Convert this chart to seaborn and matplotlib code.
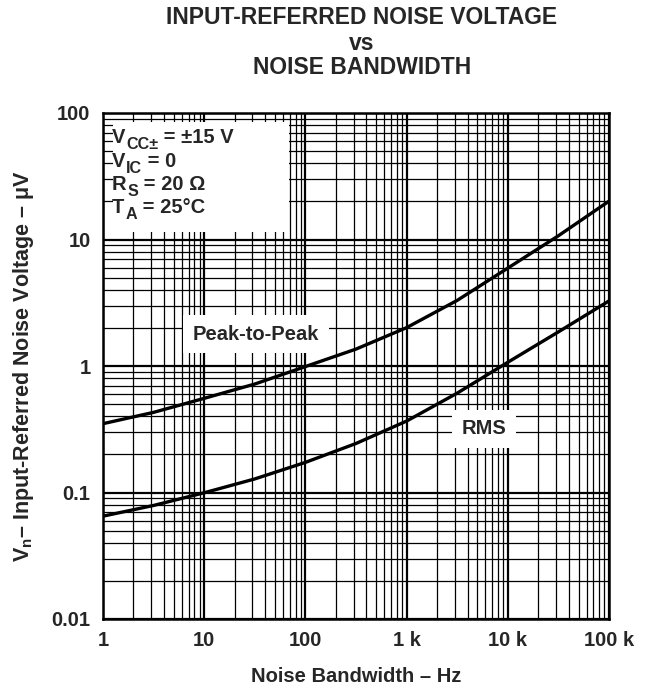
import matplotlib
matplotlib.use("Agg")
import matplotlib.pyplot as plt
import seaborn as sns
import pandas as pd
from matplotlib.patches import Rectangle
from matplotlib.ticker import FixedLocator, NullFormatter

# values (half-decade steps)
bandwidth_hz = [1, 3.16, 10, 31.6, 100, 316, 1000, 3160, 10000, 31600, 100000]
peak_to_peak_uv = [0.35, 0.43, 0.555, 0.72, 0.99, 1.36, 2.01, 3.30, 5.94, 10.7, 20.1]
rms_uv = [0.065, 0.079, 0.0995, 0.128, 0.173, 0.244, 0.367, 0.61, 1.07, 1.86, 3.27]

x_ticks = [1, 10, 100, 1000, 10000, 100000]
x_tick_labels = ["1", "10", "100", "1 k", "10 k", "100 k"]
y_ticks = [0.01, 0.1, 1, 10, 100]
y_tick_labels = ["0.01", "0.1", "1", "10", "100"]

# condition lines: (main letter, subscript, rest)
conditions = [("V", "CC±", " = ±15 V"),
              ("V", "IC", " = 0"),
              ("R", "S", " = 20 Ω"),
              ("T", "A", " = 25°C")]

df = pd.DataFrame({
    "f": bandwidth_hz * 2,
    "v": peak_to_peak_uv + rms_uv,
    "kind": ["Peak-to-Peak"] * len(bandwidth_hz) + ["RMS"] * len(bandwidth_hz),
})

sns.set_style("white")
plt.rcParams["font.family"] = ["Liberation Sans", "DejaVu Sans"]
plt.rcParams["font.weight"] = "bold"
plt.rcParams["mathtext.fontset"] = "custom"
plt.rcParams["mathtext.rm"] = "Liberation Sans:bold"
plt.rcParams["mathtext.bf"] = "Liberation Sans:bold"
plt.rcParams["mathtext.it"] = "Liberation Sans:bold"

FS = 14.5

fig = plt.figure(figsize=(6.45, 6.88), dpi=100)
ax = fig.add_axes([103 / 645, 1 - 619 / 688, 506 / 645, 506 / 688])

ax.set_xscale("log")
ax.set_yscale("log")
ax.set_xlim(1, 100000)
ax.set_ylim(0.01, 100)

# grid: minor lines thin, decade lines heavier
minor_x = [m * 10 ** d for d in range(0, 5) for m in range(2, 10)]
minor_y = [m * 10 ** d for d in range(-2, 2) for m in range(2, 10)]
ax.xaxis.set_minor_locator(FixedLocator(minor_x))
ax.yaxis.set_minor_locator(FixedLocator(minor_y))
ax.xaxis.set_minor_formatter(NullFormatter())
ax.yaxis.set_minor_formatter(NullFormatter())
ax.grid(which="minor", color="black", lw=0.9)
ax.grid(which="major", color="black", lw=1.6)
ax.set_axisbelow(True)

sns.lineplot(data=df, x="f", y="v", units="kind", estimator=None,
             color="black", lw=2.4, ax=ax, legend=False, zorder=3)

ax.set_xticks(x_ticks)
ax.set_xticklabels(x_tick_labels, fontsize=FS, fontweight="bold")
ax.set_yticks(y_ticks)
ax.set_yticklabels(y_tick_labels, fontsize=FS, fontweight="bold")
ax.tick_params(which="both", length=0, pad=9)
for s in ax.spines.values():
    s.set_color("black")
    s.set_linewidth(1.8)
    s.set_zorder(5)

ax.set_xlabel("Noise Bandwidth – Hz", fontsize=FS, fontweight="bold", labelpad=12)
ax.set_ylabel(r"V$_{\mathbf{n}}$– Input-Referred Noise Voltage – μV",
              fontsize=15.5, fontweight="bold", labelpad=11)

# white panel behind the conditions
ax.add_patch(Rectangle((0.02, 0.765), 0.348, 0.217, transform=ax.transAxes,
                       facecolor="white", edgecolor="none", zorder=2.5))
y0 = 0.932
for main, sub, rest in conditions:
    t1 = ax.text(0.018, y0, main, transform=ax.transAxes, fontsize=FS,
                 fontweight="bold", va="bottom", ha="left", zorder=4)
    t2 = ax.annotate(sub, xy=(1, 0), xycoords=t1, xytext=(0.5, -3.5),
                     textcoords="offset points", fontsize=FS * 0.8,
                     fontweight="bold", va="bottom", ha="left", zorder=4)
    ax.annotate(rest, xy=(1, 0), xycoords=(t2, t1), fontsize=FS,
                fontweight="bold", va="bottom", ha="left", zorder=4)
    y0 -= 0.046

ax.text(32.5, 1.79, "Peak-to-Peak", fontsize=FS, fontweight="bold", ha="center",
        va="center", zorder=4,
        bbox=dict(facecolor="white", edgecolor="none", pad=7))
ax.text(5800, 0.318, "RMS", fontsize=FS, fontweight="bold", ha="center",
        va="center", zorder=4,
        bbox=dict(facecolor="white", edgecolor="none", pad=7))

for txt, yp in [("INPUT-REFERRED NOISE VOLTAGE", 18), ("vs", 43),
                ("NOISE BANDWIDTH", 67)]:
    fig.text(362 / 645, 1 - yp / 688, txt, ha="center", va="center",
             fontsize=16.5, fontweight="bold")

fig.savefig("out.png", dpi=100)
